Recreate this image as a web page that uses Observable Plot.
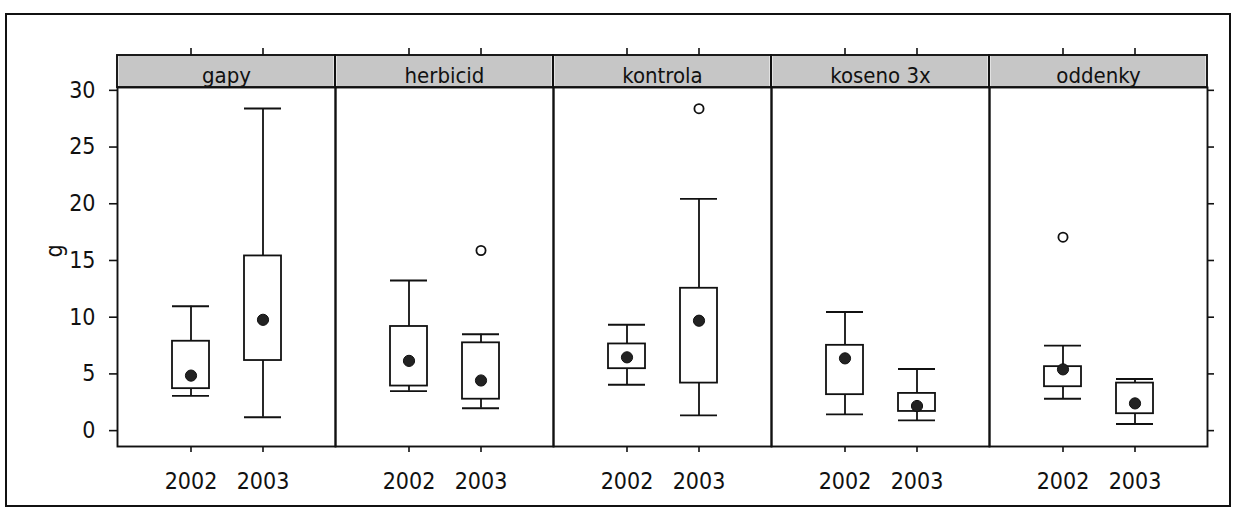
<!DOCTYPE html>
<html>
<head>
<meta charset="utf-8">
<script src="https://cdn.jsdelivr.net/npm/d3@7"></script>
<script src="https://cdn.jsdelivr.net/npm/@observablehq/plot@0.6"></script>
<style>
  html, body { margin: 0; padding: 0; background: #fff; }
  #wrap { position: relative; width: 1238px; height: 511px; overflow: hidden; }
  #border { position: absolute; left: 5px; top: 13px; width: 1226px; height: 494px; border: 2px solid #111; box-sizing: border-box; }
  #chart { position: absolute; left: 0; top: 0; }
</style>
</head>
<body>
<div id="wrap"><div id="border"></div><div id="chart"></div></div>
<script>
// ---- data ----
const groups = ["gapy", "herbicid", "kontrola", "koseno 3x", "oddenky"];
const years = ["2002", "2003"];
// one pair [2002, 2003] per group
const lowWhisker  = [[3.06, 1.18], [3.48, 1.97], [4.05, 1.34], [1.43, 0.90], [2.81, 0.58]];
const lowerQuart  = [[3.70, 6.18], [3.93, 2.77], [5.46, 4.19], [3.17, 1.69], [3.87, 1.49]];
const medians     = [[4.85, 9.77], [6.15, 4.42], [6.46, 9.69], [6.37, 2.17], [5.40, 2.40]];
const upperQuart  = [[7.88, 15.40], [9.18, 7.74], [7.64, 12.55], [7.52, 3.28], [5.64, 4.19]];
const highWhisker = [[10.97, 28.40], [13.24, 8.50], [9.34, 20.43], [10.46, 5.43], [7.49, 4.55]];
const outlierGroup = ["herbicid", "kontrola", "oddenky"];
const outlierYear  = ["2003", "2003", "2002"];
const outlierValue = [15.88, 28.38, 17.05];
const yTicks = [0, 5, 10, 15, 20, 25, 30];

// ---- tables built from the arrays ----
const boxes = groups.flatMap((g, i) => years.map((yr, j) => ({
  group: g, year: yr,
  lo: lowWhisker[i][j], q1: lowerQuart[i][j], med: medians[i][j],
  q3: upperQuart[i][j], hi: highWhisker[i][j]
})));
const outliers = outlierGroup.map((g, i) => ({group: g, year: outlierYear[i], value: outlierValue[i]}));

const ink = "#111";
const font = "'DejaVu Sans Condensed', 'DejaVu Sans', sans-serif";
const marginTop = 87, stripH = 32;

const chart = Plot.plot({
  width: 1238,
  height: 511,
  marginLeft: 115,
  marginRight: 30,
  marginTop: marginTop,
  marginBottom: 65,
  style: {fontFamily: font, fontSize: "23px", color: ink, background: "transparent"},
  fx: {domain: groups, padding: 0, label: null},
  x: {domain: years, type: "band", paddingInner: 0.49, paddingOuter: 0.745, label: null},
  y: {domain: [-1.4, 30.25], label: "g"},
  marks: [
    Plot.frame({stroke: ink, strokeWidth: 1.9}),
    Plot.ruleX(boxes, {fx: "group", x: "year", y1: "q3", y2: "hi", stroke: ink, strokeWidth: 1.8}),
    Plot.ruleX(boxes, {fx: "group", x: "year", y1: "lo", y2: "q1", stroke: ink, strokeWidth: 1.8}),
    Plot.tickY(boxes, {fx: "group", x: "year", y: "hi", stroke: ink, strokeWidth: 1.9}),
    Plot.tickY(boxes, {fx: "group", x: "year", y: "lo", stroke: ink, strokeWidth: 1.9}),
    Plot.barY(boxes, {fx: "group", x: "year", y1: "q1", y2: "q3", fill: "white", stroke: ink, strokeWidth: 1.8}),
    Plot.dot(boxes, {fx: "group", x: "year", y: "med", r: 5.6, fill: "#222", stroke: ink, strokeWidth: 1}),
    Plot.dot(outliers, {fx: "group", x: "year", y: "value", r: 4.6, fill: "white", stroke: ink, strokeWidth: 1.8}),
    Plot.axisY({anchor: "left", ticks: yTicks, tickSize: 8, tickPadding: 14, stroke: ink, strokeWidth: 1.6,
      label: "g", labelAnchor: "center", labelArrow: "none", labelOffset: 66}),
    Plot.axisY({anchor: "right", ticks: yTicks, tickSize: 6, tickFormat: () => "", label: null, stroke: ink, strokeWidth: 1.6}),
    Plot.axisX({anchor: "bottom", tickSize: 6, tickPadding: 20, label: null, stroke: ink, strokeWidth: 1.6}),
    Plot.axisX({anchor: "top", tickSize: 40, tickFormat: () => "", label: null, stroke: ink, strokeWidth: 1.6}),
    Plot.axisFx({anchor: "top", tickSize: 0, tickPadding: 5, label: null, fontSize: 22})
  ]
});

document.getElementById("chart").appendChild(chart);

// grey strips behind the panel titles, placed with the plot's own fx scale
const svg = d3.select(chart.tagName.toLowerCase() === "svg" ? chart : chart.querySelector("svg"));
const fxScale = chart.scale("fx");
const stripG = svg.insert("g", '[aria-label="fx-axis tick label"]').attr("aria-label", "strips");
stripG.selectAll("rect.fill").data(groups).join("rect")
  .attr("x", (g) => fxScale.apply(g) + 1.5)
  .attr("width", fxScale.bandwidth - 3)
  .attr("y", marginTop - stripH)
  .attr("height", stripH)
  .attr("fill", "#c6c6c6");
stripG.selectAll("rect.edge").data(groups).join("rect")
  .attr("x", (g) => fxScale.apply(g))
  .attr("width", fxScale.bandwidth)
  .attr("y", marginTop - stripH)
  .attr("height", stripH)
  .attr("fill", "none")
  .attr("stroke", ink)
  .attr("stroke-width", 1.9);
svg.selectAll('[aria-label="fx-axis tick label"] text').attr("fill", ink);
// centre the y title on the whole panel column (strip included), as in the original
svg.selectAll('[aria-label="y-axis label"] text').each(function () {
  const t = this.getAttribute("transform") || "";
  this.setAttribute("transform", `translate(-6,${-stripH / 2}) ` + t);
});
</script>
</body>
</html>
